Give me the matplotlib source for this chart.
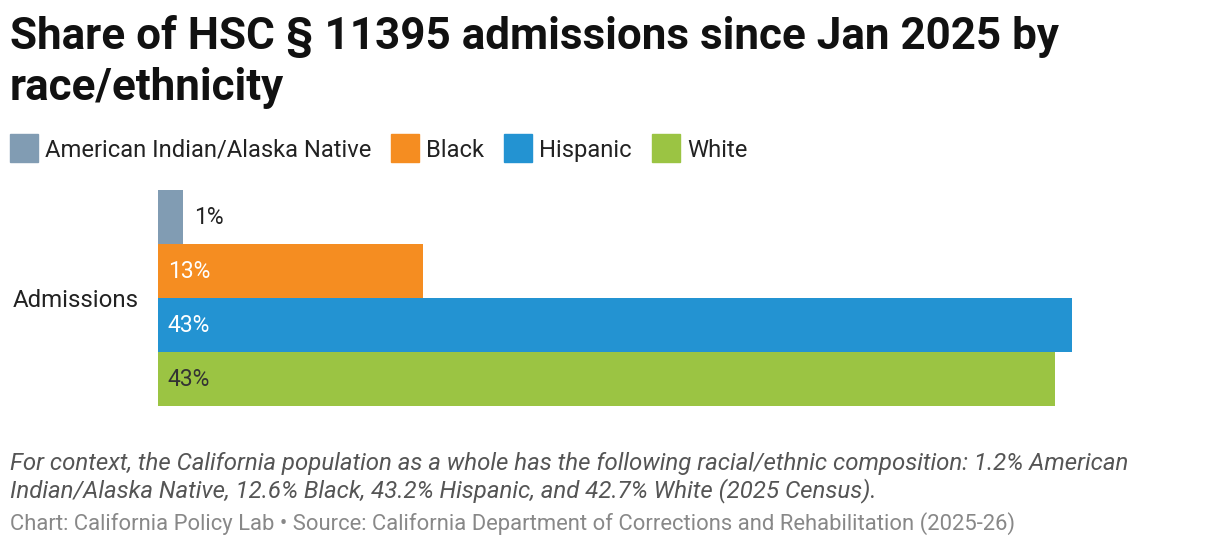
import matplotlib.pyplot as plt
from matplotlib.patches import Rectangle

# datos (porcentaje de admisiones)
categorias = ['American Indian/Alaska Native', 'Black', 'Hispanic', 'White']
valores = [1.2, 12.6, 43.5, 42.7]
etiquetas = ['1%', '13%', '43%', '43%']
colores = ['#819cb3', '#f58d21', '#2393d2', '#9bc443']
color_texto = ['#222222', '#ffffff', '#ffffff', '#333333']

plt.rcParams['font.family'] = ['Roboto', 'DejaVu Sans']

W, H = 1220, 548
fig = plt.figure(figsize=(W / 100, H / 100), dpi=100)

# ejes en pixeles: x 158..1208, y 190..406
ax = fig.add_axes([158 / W, 1 - 406 / H, 1050 / W, 216 / H])
alto = 1.0
for i, (v, c) in enumerate(zip(valores, colores)):
    ax.barh(i, v, height=alto, color=c, align='center')
ax.set_ylim(len(valores) - 0.5, -0.5)
ax.set_xlim(0, 50)
for s in ax.spines.values():
    s.set_visible(False)
ax.set_xticks([])
ax.set_yticks([1.5])
ax.set_yticklabels(['Admissions'], fontsize=17.3, color='#222222')
ax.tick_params(axis='y', length=0, pad=14)

# etiquetas de las barras
for i, (v, e, tc) in enumerate(zip(valores, etiquetas, color_texto)):
    if v < 5:
        ax.annotate(e, (v, i), xytext=(8, 0), textcoords='offset points',
                    va='center', ha='left', fontsize=16.5, color=tc)
    else:
        ax.annotate(e, (0, i), xytext=(7, 0), textcoords='offset points',
                    va='center', ha='left', fontsize=16.5, color=tc)

# titulo
fig.text(10 / W, 1 - 49 / H, 'Share of HSC § 11395 admissions since Jan 2025 by',
         fontsize=31.7, fontweight='bold', color='#111111', va='baseline')
fig.text(10 / W, 1 - 100 / H, 'race/ethnicity',
         fontsize=31.7, fontweight='bold', color='#111111', va='baseline')

# leyenda manual
fig.canvas.draw()
rend = fig.canvas.get_renderer()
x = 10
for cat, c in zip(categorias, colores):
    fig.patches.append(Rectangle((x / W, 1 - 162 / H), 28 / W, 28 / H,
                                 transform=fig.transFigure, color=c))
    t = fig.text((x + 35) / W, 1 - 148 / H, cat, fontsize=17.1,
                 color='#222222', va='center_baseline')
    ancho = t.get_window_extent(rend).width
    x = x + 35 + ancho + 20

# notas al pie
fig.text(10 / W, 1 - 470 / H,
         'For context, the California population as a whole has the following racial/ethnic composition: 1.2% American',
         fontsize=17.3, style='italic', color='#555555', va='baseline')
fig.text(10 / W, 1 - 497 / H,
         'Indian/Alaska Native, 12.6% Black, 43.2% Hispanic, and 42.7% White (2025 Census).',
         fontsize=17.3, style='italic', color='#555555', va='baseline')
fig.text(10 / W, 1 - 530 / H,
         'Chart: California Policy Lab • Source: California Department of Corrections and Rehabilitation (2025-26)',
         fontsize=15.85, color='#888888', va='baseline')

fig.savefig('out.png', dpi=100, facecolor='white')
